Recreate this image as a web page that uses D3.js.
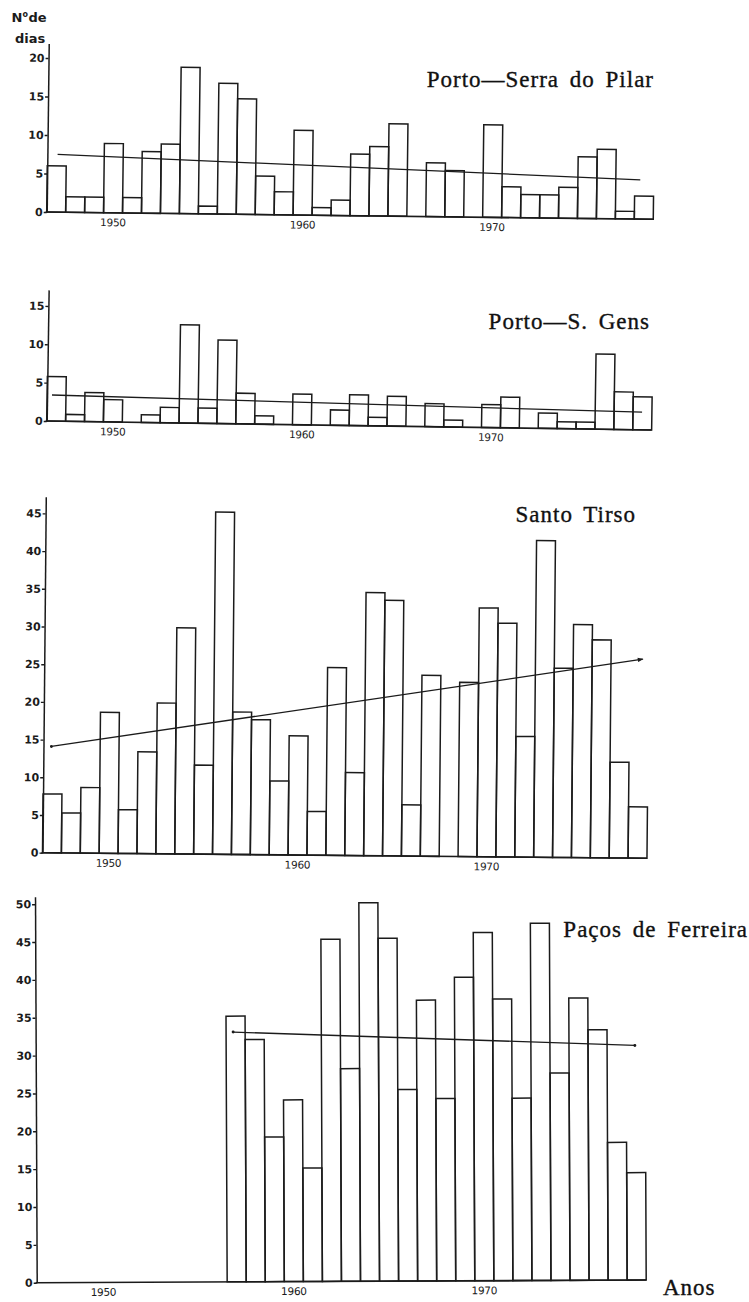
<!DOCTYPE html>
<html>
<head>
<meta charset="utf-8">
<script src="https://cdn.jsdelivr.net/npm/d3@7"></script>
<style>
  html, body { margin: 0; padding: 0; background: #ffffff; }
  svg { display: block; }
</style>
</head>
<body>
<svg id="chart" width="749" height="1302"></svg>
<script>
// Years on the horizontal axis (one bar per year)
const years = [1947, 1948, 1949, 1950, 1951, 1952, 1953, 1954, 1955, 1956,
               1957, 1958, 1959, 1960, 1961, 1962, 1963, 1964, 1965, 1966,
               1967, 1968, 1969, 1970, 1971, 1972, 1973, 1974, 1975, 1976,
               1977, 1978];

// Number of days per year at each station
const serraPilar = [6, 2, 2, 9, 2, 8, 9, 19, 1, 17, 15, 5, 3, 11, 1, 2,
                    8, 9, 12, 0, 7, 6, 0, 12, 4, 3, 3, 4, 8, 9, 1, 3];
const sGens = [5.8, 0.9, 3.8, 2.9, 0, 1, 2, 12.8, 2, 10.9, 4, 1.1, 0, 4, 0, 2,
               4, 1.1, 3.9, 0, 3, 0.9, 0, 3, 4, 0, 2, 0.9, 0.9, 9.8, 4.9, 4.3];
const santoTirso = [7.8, 5.3, 8.7, 18.7, 5.8, 13.5, 20, 30, 11.8, 45.4, 18.9, 17.9, 9.8, 15.8, 5.8, 24.9,
                    11, 34.9, 33.9, 6.8, 24, 0, 23.1, 33, 31, 16, 42, 25.1, 30.9, 28.9, 12.7, 6.8];
const pacosFerreira = [null, null, null, null, null, null, null, null, null, null,
                       35.1, 32, 19.1, 24, 15, 45.2, 28.1, 50, 45.3, 25.3, 37.1, 24.1,
                       40.1, 46, 37.2, 24.1, 47.2, 27.4, 37.3, 33.1, 18.2, 14.2];

// Trend lines: [year position, value] at each end
const trendSerra = [[1947.54, 7.5], [1978.29, 5.1]];
const trendGens  = [[1947.26, 3.4], [1978.48, 2.3]];
const trendTirso = [[1947.42, 14.1], [1978.68, 26.4]];
const trendPacos = [[1957.37, 33.0], [1978.46, 31.0]];

// Tick labels
const ticksSerra = [0, 5, 10, 15, 20];
const ticksGens  = [0, 5, 10, 15];
const ticksTirso = [0, 5, 10, 15, 20, 25, 30, 35, 40, 45];
const ticksPacos = [0, 5, 10, 15, 20, 25, 30, 35, 40, 45, 50];
const yearTicks  = [1950, 1960, 1970];

const titles = ["Porto\u2014Serra do Pilar", "Porto\u2014S. Gens", "Santo Tirso", "Paços de Ferreira"];

const INK = "#1b1b1b";

const panels = [
  { values: serraPilar,    ticks: ticksSerra, trend: trendSerra, title: titles[0],
    x0: 46.7, y0: 212,    width: 606.6, unit: 7.70, top: 21.9, tilt: 0.69,
    titleX: 654, titleY: 87,  startMark: null, endMark: null },
  { values: sGens,         ticks: ticksGens,  trend: trendGens,  title: titles[1],
    x0: 46.7, y0: 421,    width: 605.0, unit: 7.67, top: 17.1, tilt: 0.85,
    titleX: 650, titleY: 329, startMark: null, endMark: null },
  { values: santoTirso,    ticks: ticksTirso, trend: trendTirso, title: titles[2],
    x0: 42.5, y0: 852.7,  width: 604.5, unit: 7.54, top: 47.2, tilt: 0.53,
    titleX: 636, titleY: 521.5, startMark: "dot", endMark: "arrow" },
  { values: pacosFerreira, ticks: ticksPacos, trend: trendPacos, title: titles[3],
    x0: 36.7, y0: 1282.7, width: 609.5, unit: 7.57, top: 51.0, tilt: -0.25,
    titleX: 748, titleY: 936.5, startMark: "dot", endMark: "dot" }
];

const svg = d3.select("#chart");
svg.append("rect").attr("width", 749).attr("height", 1302).attr("fill", "#ffffff");

const defs = svg.append("defs");
defs.append("marker")
  .attr("id", "dot").attr("viewBox", "-3 -3 6 6")
  .attr("markerWidth", 4).attr("markerHeight", 4)
  .attr("markerUnits", "userSpaceOnUse")
  .append("circle").attr("r", 2.2).attr("fill", INK);
defs.append("marker")
  .attr("id", "arrow").attr("viewBox", "-6 -3 7 6")
  .attr("markerWidth", 7).attr("markerHeight", 5)
  .attr("markerUnits", "userSpaceOnUse").attr("orient", "auto")
  .append("path").attr("d", "M-6,-2.6L1,0L-6,2.6Z").attr("fill", INK);

panels.forEach(p => {
  const g = svg.append("g")
    .attr("transform", `translate(${p.x0},${p.y0}) rotate(${p.tilt})`);

  const x = d3.scaleBand().domain(years).range([0, p.width]).padding(0);
  const xYear = d3.scaleLinear()
    .domain([years[0], years[years.length - 1] + 1])
    .range([0, p.width]);
  const y = d3.scaleLinear().domain([0, p.top]).range([0, -p.top * p.unit]);

  // bars
  const rows = years.map((yr, i) => ({ yr, v: p.values[i] }))
    .filter(d => d.v != null && d.v > 0);
  g.append("g").selectAll("rect")
    .data(rows)
    .join("rect")
    .attr("x", d => x(d.yr))
    .attr("y", d => y(d.v))
    .attr("width", x.bandwidth())
    .attr("height", d => y(0) - y(d.v))
    .attr("fill", "none")
    .attr("stroke", INK)
    .attr("stroke-width", 1.5);

  // baseline
  g.append("line")
    .attr("x1", -1).attr("x2", p.width)
    .attr("y1", y(0)).attr("y2", y(0))
    .attr("stroke", INK).attr("stroke-width", 1.6);

  // vertical axis
  const ya = g.append("g")
    .call(d3.axisLeft(y).tickValues(p.ticks).tickFormat(d3.format("d"))
      .tickSize(3).tickSizeOuter(0).tickPadding(1));
  ya.select(".domain").attr("stroke", INK).attr("stroke-width", 1.5);
  ya.selectAll(".tick line").attr("stroke", INK).attr("stroke-width", 1.4);
  ya.selectAll(".tick text")
    .attr("fill", INK)
    .attr("font-family", "'DejaVu Sans', sans-serif")
    .attr("font-weight", "bold")
    .attr("font-size", 11);

  // year labels
  const xa = g.append("g")
    .call(d3.axisBottom(x).tickValues(yearTicks).tickSize(0).tickPadding(6));
  xa.select(".domain").remove();
  xa.selectAll(".tick text")
    .attr("fill", INK)
    .attr("font-family", "'DejaVu Sans', sans-serif")
    .attr("font-size", 10.5)
    .attr("letter-spacing", -0.3);

  // trend line
  const line = d3.line().x(d => xYear(d[0])).y(d => y(d[1]));
  const tr = g.append("path")
    .datum(p.trend)
    .attr("d", line)
    .attr("fill", "none")
    .attr("stroke", INK)
    .attr("stroke-width", 1.3);
  if (p.startMark) tr.attr("marker-start", `url(#${p.startMark})`);
  if (p.endMark) tr.attr("marker-end", `url(#${p.endMark})`);

  // station name
  svg.append("text")
    .attr("x", p.titleX).attr("y", p.titleY)
    .attr("text-anchor", "end")
    .attr("font-family", "'Liberation Serif', 'Times New Roman', serif")
    .attr("font-size", 23)
    .attr("letter-spacing", 1)
    .attr("word-spacing", 4)
    .attr("fill", "#111")
    .attr("stroke", "#111")
    .attr("stroke-width", 0.35)
    .text(p.title);
});

// vertical axis title: "Nº de dias"
const yl = svg.append("text")
  .attr("x", 11.5).attr("y", 21.7)
  .attr("font-family", "'DejaVu Sans', sans-serif")
  .attr("font-weight", "bold")
  .attr("font-size", 13)
  .attr("fill", INK);
yl.append("tspan").text("N");
yl.append("tspan").attr("font-size", 8).attr("dy", -4.5).text("o");
yl.append("tspan").attr("dy", 4.5).attr("dx", 0.5).text("de");
svg.append("text")
  .attr("x", 15).attr("y", 43.3)
  .attr("font-family", "'DejaVu Sans', sans-serif")
  .attr("font-weight", "bold")
  .attr("font-size", 13)
  .attr("fill", INK)
  .text("dias");

// horizontal axis title
svg.append("text")
  .attr("x", 663).attr("y", 1295)
  .attr("font-family", "'Liberation Serif', 'Times New Roman', serif")
  .attr("font-size", 23)
  .attr("letter-spacing", 1)
  .attr("fill", "#111")
  .attr("stroke", "#111")
  .attr("stroke-width", 0.35)
  .text("Anos");
</script>
</body>
</html>
